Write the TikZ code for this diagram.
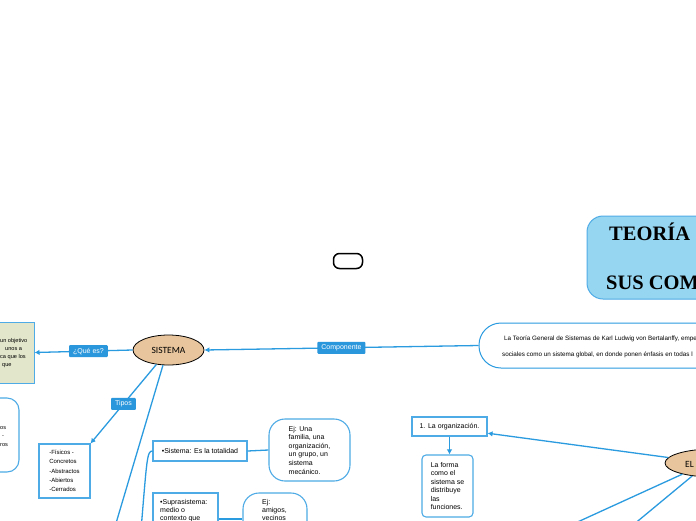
\documentclass[tikz,border=0pt]{standalone}
\usepackage{fontspec}
\setmainfont{Liberation Sans}
\newfontfamily\titlefont{Liberation Serif}
\newfontfamily\calfont{Carlito}
\usetikzlibrary{arrows.meta,shapes.geometric}
\definecolor{conn}{HTML}{2B9BE0}
\definecolor{lblc}{HTML}{2A96DC}
\definecolor{boxc}{HTML}{4EABE6}
\definecolor{titlec}{HTML}{96D6F0}
\definecolor{tanc}{HTML}{E8C59C}
\definecolor{greenc}{HTML}{E2E7CB}
\tikzset{
  conn/.style={draw=conn, line width=1.3pt},
  arr/.style={conn, -{Latex[length=5pt,width=5.5pt]}},
  lbl/.style={fill=lblc, text=white, font=\fontsize{7}{7}\selectfont, rounded corners=1pt, inner xsep=4pt, inner ysep=0pt, minimum height=12pt},
  box/.style={draw=boxc, line width=1.1pt, fill=white, inner sep=0pt},
  body/.style={font=\fontsize{7}{8.6}\selectfont, align=left, inner sep=0pt},
  tiny/.style={font=\fontsize{5.6}{6}\selectfont, inner sep=0pt, anchor=west},
  desctext/.style={font=\fontsize{6.3}{6.3}\selectfont, inner sep=0pt, anchor=west},
  ttl/.style={font=\titlefont\bfseries\fontsize{20.5}{21}\selectfont, inner sep=0pt, anchor=base west},
  oval/.style={ellipse, draw=black, line width=0.8pt, fill=tanc, inner sep=0pt, font=\calfont\fontsize{9.5}{10}\selectfont}
}
\begin{document}
\begin{tikzpicture}[x=1pt,y=-1pt]
\useasboundingbox (0,0) rectangle (696,520);
\clip (0,0) rectangle (696,520);
\fill[white] (0,0) rectangle (696,520);

% small pill
\node[draw=black, line width=1.5pt, rounded corners=6pt, minimum width=29pt, minimum height=15pt, inner sep=0pt] (pill) at (348,261) {};

% title
\node[draw=boxc, line width=1pt, fill=titlec, rounded corners=16pt, minimum width=180pt, minimum height=83pt, inner sep=0pt] (title) at (677,257.5) {};
\node[ttl] (t1) at (609,240) {TEORÍA};
\node[ttl] (t2) at (606,289) {SUS COM};

% description
\node[draw=conn, line width=1pt, fill=white, rounded corners=22pt, minimum width=440pt, minimum height=45pt, inner sep=0pt] (desc) at (699,345.5) {};
\node[desctext] (d1) at (504,339) {La Teoría General de Sistemas de Karl Ludwig von Bertalanffy,  empe};
\node[desctext] (d2) at (502,355) {sociales como un sistema global, en donde ponen énfasis en todas l};

% SISTEMA
\node[oval, minimum width=71pt, minimum height=30pt] (sistema) at (168.5,350) {SISTEMA};
\draw[arr] (desc.west) -- node[lbl]{Componente} (sistema.east);

% green box
\node[draw=boxc, line width=1pt, fill=greenc, minimum width=100pt, minimum height=61pt, inner sep=0pt] (que) at (-16,352.5) {};
\draw[arr] (sistema.west) -- node[lbl, pos=0.45]{¿Qué es?} (que.east);
\node[tiny] (q1) at (0,341) {un objetivo};
\node[tiny] (q2) at (5,349) {unos a};
\node[tiny] (q3) at (0,357.5) {ca que los};
\node[tiny] (q4) at (2,365.5) {que};

% left rounded box
\node[box, rounded corners=12pt, minimum width=100pt, minimum height=74pt] (lb) at (-31,435) {};
\node[tiny] (l1) at (0,428) {os};
\node[tiny] (l2) at (2,436.5) {-};
\node[tiny] (l3) at (0,445) {ros};

% tipos
\node[box, minimum width=51pt, minimum height=54pt, font=\fontsize{6}{9.2}\selectfont, align=left] (tipos) at (64.5,471) {-Físicos -\\Concretos\\-Abstractos\\-Abiertos\\-Cerrados};
\draw[arr] (sistema.230) -- node[lbl]{Tipos} (tipos.north east);

% long line down
\coordinate (c1) at (114,530);
\draw[conn] (sistema.250) -- (c1);

% Sistema box
\node[box, minimum width=94pt, minimum height=20pt, font=\fontsize{7}{8}\selectfont] (sisbox) at (200,451) {•Sistema: Es la totalidad};
\coordinate (c2) at (141,530);
\draw[conn] (c2) .. controls (147,458) and (147,451) .. (sisbox.west);

\node[box, rounded corners=16pt, minimum width=81pt, minimum height=62pt, body] (ej1) at (309.5,450) {Ej: Una\\familia, una\\organización,\\un grupo, un\\sistema\\mecánico.};
\draw[conn] (sisbox.east) -- (ej1.west);

% Suprasistema
\node[box, minimum width=65pt, minimum height=52pt] (supbox) at (185.5,519) {};
\node[body, font=\fontsize{7}{8.2}\selectfont, anchor=north west] (suptext) at (160,499) {•Suprasistema:\\medio o\\contexto que};
\node[box, rounded corners=16pt, minimum width=64pt, minimum height=52pt] (ej2) at (275,519) {};
\node[body, font=\fontsize{7}{8.2}\selectfont, anchor=north west] (ej2text) at (262,499) {Ej:\\amigos,\\vecinos};
\draw[conn] (supbox.east) -- (ej2.west);

% right side
\node[oval, minimum width=96pt, minimum height=28pt] (ele) at (713,463) {};
\node[inner sep=0pt, anchor=west, font=\calfont\fontsize{9.5}{10}\selectfont] (elet) at (685,464) {EL};
\node[box, minimum width=75pt, minimum height=19pt, font=\fontsize{7}{8}\selectfont] (org) at (449.5,426.5) {1. La organización.};
\draw[arr] (ele.173) -- (org.-10);
\node[box, rounded corners=4pt, minimum width=51pt, minimum height=62pt, body, font=\fontsize{7}{8.4}\selectfont] (forma) at (447.5,486) {La forma\\como el\\sistema se\\distribuye\\las\\funciones.};
\draw[arr] (org.south) -- (org.south |- forma.north);
\coordinate (c3) at (560,530);
\coordinate (c4) at (627,530);
\draw[conn] (ele.200) -- (c3);
\draw[conn] (ele.212) -- (c4);
\end{tikzpicture}
\end{document}
